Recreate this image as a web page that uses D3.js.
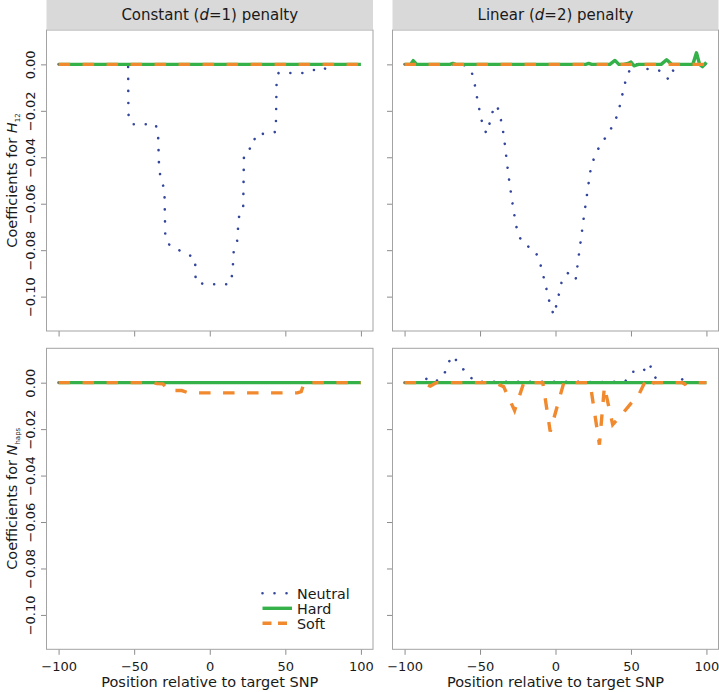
<!DOCTYPE html>
<html><head><meta charset="utf-8">
<script src="https://cdn.jsdelivr.net/npm/d3@7"></script>
<style>
html,body{margin:0;padding:0;background:#fff;}
text{font-family:"DejaVu Sans",sans-serif;fill:#1a1a1a;}
</style></head>
<body><svg id="chart" width="719" height="692"></svg>
<script>
// ---------- data ----------
const panelTitles = ["Constant (d=1) penalty", "Linear (d=2) penalty"];
const seriesNames = ["Neutral", "Hard", "Soft"];
const xTicks = [-100, -50, 0, 50, 100];
const xTickLabels = ["\u2212100", "\u221250", "0", "50", "100"];
const yTicks = [0, -0.02, -0.04, -0.06, -0.08, -0.10];
const yTickLabels = ["0.00", "\u22120.02", "\u22120.04", "\u22120.06", "\u22120.08", "\u22120.10"];

// Row 1: coefficients for H12
const neutralConstH12 = [[-100,0],[-54,0],[-53.8,-0.0216],[-51.7,-0.0258],[-35.8,-0.0258],[-34.2,-0.0298],[-33.5,-0.045],[-32.2,-0.0498],[-30,-0.0537],[-29.4,-0.0742],[-26.5,-0.078],[-20.7,-0.0799],[-15,-0.0816],[-9.7,-0.0836],[-9.3,-0.0938],[-2.6,-0.0947],[13.2,-0.0947],[15,-0.0902],[15.9,-0.0799],[18.1,-0.076],[19.2,-0.0659],[22.1,-0.0624],[22.6,-0.04],[23.6,-0.0373],[29.1,-0.0354],[30,-0.0304],[43.7,-0.0291],[44.2,-0.008],[45.5,-0.0037],[61.4,-0.0037],[68.4,-0.0024],[75.9,-0.0024],[77.5,0],[100,0]];
const hardConstH12 = [[-100,0],[100,0]];
const softConstH12 = [[-100,0],[100,0]];

const neutralLinH12 = [[-100,0],[-61,0],[-55.7,-0.0029],[-53.7,-0.0079],[-52.4,-0.0129],[-50.9,-0.0181],[-49.3,-0.0231],[-47.6,-0.028],[-45.4,-0.0297],[-43.4,-0.0247],[-41.4,-0.0198],[-38.8,-0.0175],[-36.6,-0.0225],[-35,-0.0275],[-33.9,-0.0326],[-31.1,-0.0481],[-28.9,-0.0582],[-26.4,-0.0684],[-24.7,-0.0735],[-20.7,-0.0776],[-13.9,-0.0798],[-10.6,-0.0845],[-6.8,-0.0944],[-3.3,-0.1043],[-1.1,-0.1079],[0.9,-0.1029],[4.4,-0.0927],[8.8,-0.0895],[13.4,-0.0925],[15.4,-0.0825],[18.5,-0.0671],[21.8,-0.0518],[22.9,-0.0466],[24.7,-0.0418],[27.8,-0.0369],[32.2,-0.0324],[36.3,-0.0283],[39.9,-0.0237],[42.3,-0.0188],[45.8,-0.0086],[48.2,-0.0037],[51.5,0],[56,0],[59.9,-0.002],[65.9,-0.002],[70.9,-0.0032],[75.1,-0.0067],[78.4,-0.002],[80,0],[100,0]];
const hardLinH12 = [[-100,0],[-96,0],[-94.3,0.0016],[-92,0],[-70,0],[-68,0.0004],[-66,0],[20,0],[22,0.0004],[24,0],[36,0],[39.4,0.0017],[42,0],[45,0],[48,0.0004],[50,0.001],[52,-0.0006],[55,0],[70,0],[73.6,0.002],[77,0],[91,0],[93.4,0.005],[95.5,0],[97.4,-0.001],[100,0.0009]];
const softLinH12 = [[-100,0],[100,0]];

// Row 2: coefficients for N_haps
const neutralConstNhaps = [[-100,0],[100,0]];
const hardConstNhaps = [[-100,0],[100,0]];
const softConstNhaps = [[-100,0],[-37,0],[-35,-0.0004],[-31,-0.0005],[-27,-0.0034],[-18.5,-0.0034],[-14,-0.0044],[58,-0.0044],[60.5,-0.0039],[62.5,0],[100,0]];

const neutralLinNhaps = [[-100,0],[-87,0],[-85,0.0023],[-78.4,0.0009],[-74,0.0031],[-71.4,0.008],[-68.3,0.0117],[-63.4,0.0077],[-58.6,0.0037],[-53,0.0004],[-30,0.0004],[30,0.0003],[46,0.0004],[51.1,0.0047],[57.7,0.0046],[62.1,0.0084],[65,0.0037],[68,0],[80,0],[82.8,0.003],[85,0],[100,0]];
const hardLinNhaps = [[-100,0],[100,0]];
const softLinNhaps = [[-100,0],[-88,0],[-83,-0.0015],[-79,0],[-40.5,0],[-34.4,-0.0017],[-27.1,-0.012],[-21,0],[-8.4,0],[-3.5,-0.021],[5.5,0],[22.9,0],[29.1,-0.0267],[32.4,-0.0017],[37.9,-0.0181],[44.3,-0.0134],[50,-0.0089],[54.8,-0.0057],[58.6,-0.0006],[62.6,-0.0029],[64.8,0],[84,0],[85.7,-0.0007],[87.5,0],[100,0]];

// ---------- layout ----------
const svg = d3.select("#chart");
const colX = [[46.5, 373], [392.5, 718.5]];
const rowY = [[30, 331], [348.3, 649.3]];
const stripY = [0, 29];
const colors = {Neutral: "#34469c", Hard: "#35b14a", Soft: "#f18a2e"};
const xDomain = [-108, 108];
const yDomain = [-0.1148, 0.0148];

const panels = [
  {r:0, c:0, series:[neutralConstH12, hardConstH12, softConstH12]},
  {r:0, c:1, series:[neutralLinH12, hardLinH12, softLinH12]},
  {r:1, c:0, series:[neutralConstNhaps, hardConstNhaps, softConstNhaps]},
  {r:1, c:1, series:[neutralLinNhaps, hardLinNhaps, softLinNhaps]}
];

function styleSeries(sel, name) {
  sel.attr("fill", "none").attr("stroke", colors[name]);
  if (name === "Neutral") {
    sel.attr("stroke-width", 2.6).attr("stroke-linecap", "round").attr("stroke-dasharray", "0.01 12");
  } else if (name === "Hard") {
    sel.attr("stroke-width", 3.4).attr("stroke-linejoin", "round");
  } else {
    sel.attr("stroke-width", 3.4).attr("stroke-dasharray", "11.5 12.5");
  }
}

// strips
panelTitles.forEach((t, c) => {
  const [x0, x1] = colX[c];
  svg.append("rect").attr("x", x0).attr("y", stripY[0]).attr("width", x1 - x0).attr("height", stripY[1] - stripY[0]).attr("fill", "#d9d9d9");
  const txt = svg.append("text").attr("x", (x0 + x1) / 2).attr("y", 20).attr("text-anchor", "middle").style("font-size", "15px");
  const parts = t.split(/\(d=(\d)\)/);
  txt.append("tspan").text(parts[0] + "(");
  txt.append("tspan").style("font-style", "italic").text("d");
  txt.append("tspan").text("=" + parts[1] + ")" + parts[2]);
});

panels.forEach(p => {
  const [x0, x1] = colX[p.c];
  const [y0, y1] = rowY[p.r];
  const x = d3.scaleLinear().domain(xDomain).range([x0, x1]);
  const y = d3.scaleLinear().domain(yDomain).range([y1, y0]);
  const g = svg.append("g");
  const clipId = "clip" + p.r + p.c;
  g.append("clipPath").attr("id", clipId).append("rect").attr("x", x0).attr("y", y0).attr("width", x1 - x0).attr("height", y1 - y0);

  // axes
  const ax = d3.axisBottom(x).tickValues(xTicks).tickSize(5.5).tickFormat((d, i) => p.r === 1 ? xTickLabels[i] : "");
  const axG = g.append("g").attr("transform", `translate(0,${y1})`).call(ax);
  const ay = d3.axisLeft(y).tickValues(yTicks).tickSize(5.5).tickFormat((d, i) => p.c === 0 ? yTickLabels[i] : "");
  const ayG = g.append("g").attr("transform", `translate(${x0},0)`).call(ay);
  [axG, ayG].forEach(a => {
    a.select(".domain").remove();
    a.selectAll(".tick line").attr("stroke", "#8c8c8c");
    a.selectAll(".tick text").style("font-size", "13px").style("font-family", "DejaVu Sans").attr("fill", "#1a1a1a");
  });
  axG.selectAll(".tick text").attr("y", 12);
  ayG.selectAll(".tick text").attr("x", null).attr("dy", null).attr("text-anchor", "middle")
    .attr("transform", "translate(-12,0) rotate(-90)").attr("y", 0);

  const line = d3.line().x(d => x(d[0])).y(d => y(d[1]));
  const lg = g.append("g").attr("clip-path", `url(#${clipId})`);
  p.series.forEach((s, i) => {
    lg.append("path").datum(s).attr("d", line).call(styleSeries, seriesNames[i]);
  });

  g.append("rect").attr("x", x0).attr("y", y0).attr("width", x1 - x0).attr("height", y1 - y0)
    .attr("fill", "none").attr("stroke", "#a3a3a3").attr("stroke-width", 1);

  // x axis title
  if (p.r === 1) {
    svg.append("text").attr("x", (x(-100) + x(100)) / 2).attr("y", 687).attr("text-anchor", "middle")
      .style("font-size", "14.5px").text("Position relative to target SNP");
  }
  // y axis title
  if (p.c === 0) {
    const t = svg.append("text").attr("transform", `translate(16.5,${(y0 + y1) / 2}) rotate(-90)`)
      .attr("text-anchor", "middle").style("font-size", "14.5px");
    t.append("tspan").text("Coefficients for ");
    t.append("tspan").style("font-style", "italic").text(p.r === 0 ? "H" : "N");
    t.append("tspan").attr("dy", 3).style("font-size", "7px").text(p.r === 0 ? "12" : "haps");
  }
});

// legend (inside bottom-left panel)
const legX0 = 262.5, legX1 = 292, legTextX = 297, legY = [593.3, 608.3, 623.3];
seriesNames.forEach((name, i) => {
  const l = svg.append("line").attr("x1", legX0).attr("x2", name === "Neutral" ? legX1 - 4 : legX1)
    .attr("y1", legY[i]).attr("y2", legY[i]).call(styleSeries, name);
  if (name === "Soft") l.attr("stroke-dasharray", "9 6.5");
  svg.append("text").attr("x", legTextX).attr("y", legY[i] + 5.2).style("font-size", "14.3px").text(name);
});
</script></body></html>
